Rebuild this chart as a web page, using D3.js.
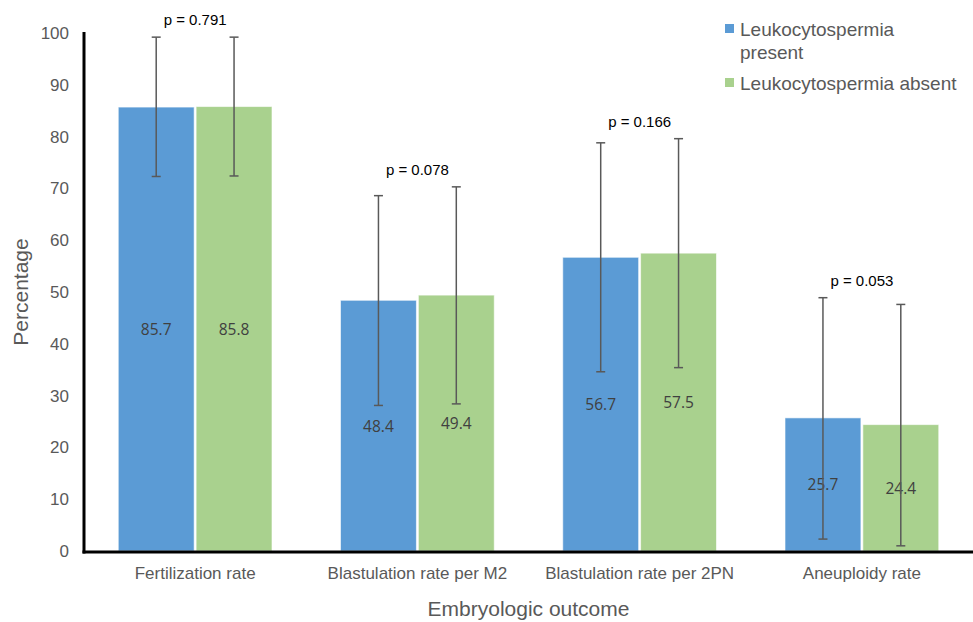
<!DOCTYPE html>
<html>
<head>
<meta charset="utf-8">
<script src="https://cdn.jsdelivr.net/npm/d3@7"></script>
<style>
  body { margin: 0; background: #fff; }
  svg { display: block; font-family: "Liberation Sans", Arial, sans-serif; }
</style>
</head>
<body>
<svg id="chart" width="973" height="622"></svg>
<script>
var categories = ['Fertilization rate', 'Blastulation rate per M2', 'Blastulation rate per 2PN', 'Aneuploidy rate'];
var seriesNames = ['Leukocytospermia present', 'Leukocytospermia absent'];
var present = [85.7, 48.4, 56.7, 25.7];
var absent = [85.8, 49.4, 57.5, 24.4];
var presentLow = [72.3, 28.1, 34.6, 2.3];
var presentHigh = [99.2, 68.6, 78.8, 48.9];
var absentLow = [72.4, 28.4, 35.4, 1.0];
var absentHigh = [99.2, 70.3, 79.6, 47.6];
var pValues = ['p = 0.791', 'p = 0.078', 'p = 0.166', 'p = 0.053'];
var yTicks = [0, 10, 20, 30, 40, 50, 60, 70, 80, 90, 100];

var colors = ['#5b9bd5', '#a9d18e'];

var rows = [];
categories.forEach(function (c, i) {
  rows.push({cat: c, s: seriesNames[0], v: present[i], lo: presentLow[i], hi: presentHigh[i], k: 0});
  rows.push({cat: c, s: seriesNames[1], v: absent[i], lo: absentLow[i], hi: absentHigh[i], k: 1});
});

var svg = d3.select('#chart');
var m = {left: 84, right: 973, top: 33, bottom: 551};

var x0 = d3.scaleBand().domain(categories).range([m.left, m.right]).padding(0);
var x1 = d3.scaleBand().domain(seriesNames).range([0, x0.bandwidth()])
    .paddingInner(0.025).paddingOuter(0.44);
var y = d3.scaleLinear().domain([0, 100]).range([m.bottom, m.top]);

// bars
svg.append('g').selectAll('rect')
  .data(rows).enter().append('rect')
  .attr('x', function (d) { return x0(d.cat) + x1(d.s); })
  .attr('y', function (d) { return y(d.v); })
  .attr('width', x1.bandwidth())
  .attr('height', function (d) { return y(0) - y(d.v); })
  .attr('fill', function (d) { return colors[d.k]; })
  .attr('stroke', '#ffffff')
  .attr('stroke-opacity', 0.6)
  .attr('stroke-width', 1);

// value labels in bar middle
svg.append('g').selectAll('text')
  .data(rows).enter().append('text')
  .attr('x', function (d) { return x0(d.cat) + x1(d.s) + x1.bandwidth() / 2; })
  .attr('y', function (d) { return y(d.v / 2) + 6; })
  .attr('text-anchor', 'middle')
  .attr('font-family', '"Open Sans", "DejaVu Sans", sans-serif')
  .attr('font-size', 15.5)
  .attr('fill', '#404040')
  .text(function (d) { return d.v.toFixed(1); });

// error bars
var eb = svg.append('g').attr('stroke', '#595959').attr('stroke-width', 1.5).attr('fill', 'none');
rows.forEach(function (d) {
  var cx = x0(d.cat) + x1(d.s) + x1.bandwidth() / 2;
  eb.append('line').attr('x1', cx).attr('x2', cx).attr('y1', y(d.lo)).attr('y2', y(d.hi));
  eb.append('line').attr('x1', cx - 4.5).attr('x2', cx + 4.5).attr('y1', y(d.lo)).attr('y2', y(d.lo));
  eb.append('line').attr('x1', cx - 4.5).attr('x2', cx + 4.5).attr('y1', y(d.hi)).attr('y2', y(d.hi));
});

// p values
svg.append('g').selectAll('text')
  .data(categories).enter().append('text')
  .attr('x', function (c) { return x0(c) + x0.bandwidth() / 2; })
  .attr('y', function (c, i) { return y(Math.max(presentHigh[i], absentHigh[i])) - 12; })
  .attr('text-anchor', 'middle')
  .attr('font-size', 15)
  .attr('fill', '#000')
  .text(function (c, i) { return pValues[i]; });

// y axis
var yAxis = svg.append('g')
  .attr('transform', 'translate(' + m.left + ',0)')
  .call(d3.axisLeft(y).tickValues(yTicks).tickSize(0).tickPadding(15));
yAxis.select('.domain').remove();
yAxis.selectAll('text').attr('font-size', 17).attr('fill', '#595959')
  .attr('font-family', '"Liberation Sans", Arial, sans-serif');

// x axis
var xAxis = svg.append('g')
  .attr('transform', 'translate(0,' + m.bottom + ')')
  .call(d3.axisBottom(x0).tickSize(0).tickPadding(16));
xAxis.select('.domain').remove();
xAxis.selectAll('text').attr('font-size', 17).attr('fill', '#595959')
  .attr('font-family', '"Liberation Sans", Arial, sans-serif');

// axis lines
svg.append('line').attr('x1', m.left).attr('x2', m.left).attr('y1', m.top - 1).attr('y2', m.bottom + 2.5)
  .attr('stroke', '#000').attr('stroke-width', 3);
svg.append('line').attr('x1', m.left - 1.5).attr('x2', m.right).attr('y1', m.bottom + 1).attr('y2', m.bottom + 1)
  .attr('stroke', '#000').attr('stroke-width', 3);

// axis titles
svg.append('text')
  .attr('transform', 'translate(28,' + ((m.top + m.bottom) / 2) + ') rotate(-90)')
  .attr('text-anchor', 'middle')
  .attr('font-size', 21).attr('fill', '#595959')
  .text('Percentage');
svg.append('text')
  .attr('x', (m.left + m.right) / 2).attr('y', 616)
  .attr('text-anchor', 'middle')
  .attr('font-size', 21).attr('fill', '#595959')
  .text('Embryologic outcome');

// legend
var legend = svg.append('g').attr('font-size', 19).attr('fill', '#595959');
legend.append('rect').attr('x', 725).attr('y', 24).attr('width', 9).attr('height', 9).attr('fill', colors[0]);
legend.append('text').attr('x', 740).attr('y', 36).text('Leukocytospermia');
legend.append('text').attr('x', 740).attr('y', 59).text('present');
legend.append('rect').attr('x', 725).attr('y', 78).attr('width', 9).attr('height', 9).attr('fill', colors[1]);
legend.append('text').attr('x', 740).attr('y', 90).text('Leukocytospermia absent');
</script>
</body>
</html>
